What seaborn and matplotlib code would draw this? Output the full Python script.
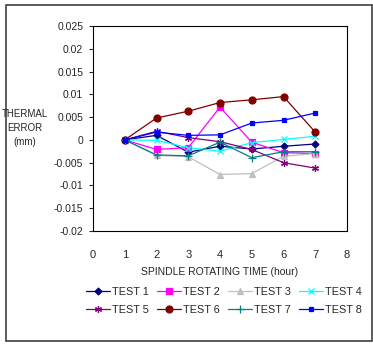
import matplotlib
matplotlib.use("Agg")
import matplotlib.pyplot as plt
import seaborn as sns
import pandas as pd
from matplotlib.patches import Rectangle

hours = [1, 2, 3, 4, 5, 6, 7]
test1 = [0, 0.0010, -0.0027, -0.0014, -0.0020, -0.0014, -0.0009]
test2 = [0, -0.0021, -0.0017, 0.0072, -0.0005, -0.0028, -0.0030]
test3 = [0, -0.0034, -0.0037, -0.0076, -0.0074, -0.0036, -0.0030]
test4 = [0, -0.0001, -0.0017, -0.0025, -0.0006, 0.0001, 0.0008]
test5 = [0, 0.0019, 0.0005, -0.0004, -0.0021, -0.0050, -0.0062]
test6 = [0, 0.0048, 0.0063, 0.0082, 0.0088, 0.0095, 0.0017]
test7 = [0, -0.0033, -0.0035, -0.0005, -0.0039, -0.0026, -0.0026]
test8 = [0, 0.0017, 0.0010, 0.0011, 0.0037, 0.0043, 0.0059]
names = ["TEST 1", "TEST 2", "TEST 3", "TEST 4", "TEST 5", "TEST 6", "TEST 7", "TEST 8"]
series = [test1, test2, test3, test4, test5, test6, test7, test8]
colors = ["#000080", "#FF00FF", "#C0C0C0", "#00FFFF", "#800080", "#800000", "#008080", "#0000FF"]
markers = ["D", "s", "^", "x", (6, 2, 0), "o", "+", "s"]
msizes = [3.5, 4.5, 4.5, 5, 5, 5, 5.5, 2.8]

rows = []
for n, s in zip(names, series):
    for h, v in zip(hours, s):
        rows.append({"hour": h, "err": v, "test": n})
df = pd.DataFrame(rows)

sns.set_style("white")
plt.rcParams["font.family"] = ["Liberation Sans Narrow", "Liberation Sans", "DejaVu Sans"]

fig = plt.figure(figsize=(3.73, 3.44), dpi=100)
fig.patch.set_facecolor("white")
ax = fig.add_axes([93/373, 1-231/344, (347-93)/373, (231-26)/344])

for n, c, m, ms in zip(names, colors, markers, msizes):
    sub = df[df["test"] == n]
    sns.lineplot(data=sub, x="hour", y="err", ax=ax, color=c, marker=m,
                 markersize=ms, linewidth=0.9, markeredgecolor=c,
                 markeredgewidth=0.9, label=n, legend=False)

ax.set_xlim(0, 8)
ax.set_ylim(-0.02, 0.025)
ax.set_xticks(range(0, 9))
ax.set_yticks([-0.02, -0.015, -0.01, -0.005, 0, 0.005, 0.01, 0.015, 0.02, 0.025])
ax.set_yticklabels(["-0.02", "-0.015", "-0.01", "-0.005", "0", "0.005", "0.01", "0.015", "0.02", "0.025"])
ax.tick_params(axis="y", length=3, width=0.8, direction="out", labelsize=7.5, pad=4, left=True)
ax.tick_params(axis="x", length=0, labelsize=8, pad=14)
for sp in ax.spines.values():
    sp.set_visible(True)
    sp.set_color("black")
    sp.set_linewidth(0.8)
ax.set_xlabel("SPINDLE ROTATING TIME (hour)", fontsize=7.5, labelpad=5)
ax.set_ylabel("")
fig.text(25/373, 1-128/344, "THERMAL\nERROR\n(mm)", ha="center", va="center",
         fontsize=7, linespacing=1.5)

handles, labels = ax.get_legend_handles_labels()
order = [0, 4, 1, 5, 2, 6, 3, 7]
fig.legend([handles[i] for i in order], [labels[i] for i in order], ncol=4, loc="center",
           bbox_to_anchor=(224/373, 1-301/344),
           frameon=False, fontsize=7.8, handlelength=2.2, handletextpad=0.25,
           columnspacing=0.7, labelspacing=0.75, borderaxespad=0)

fig.patches.append(Rectangle((6/373, 1-341/344), 366/373, 336/344, transform=fig.transFigure,
                             fill=False, edgecolor="#404040", linewidth=1.2))

fig.savefig("out.png", dpi=100)
